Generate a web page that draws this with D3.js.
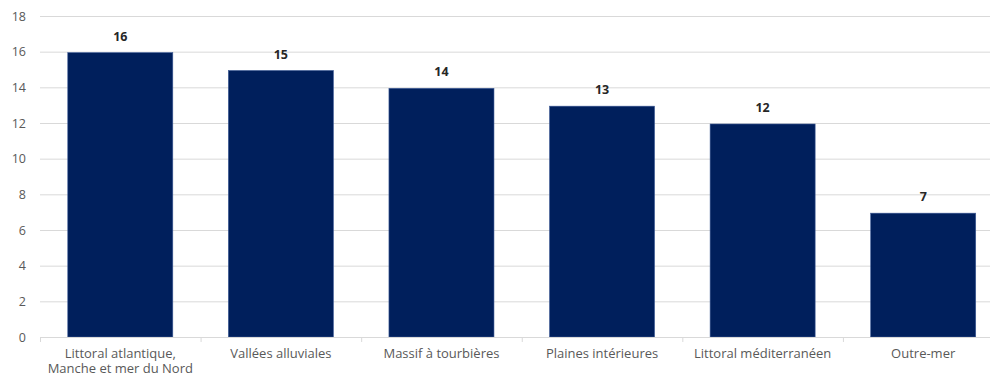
<!DOCTYPE html>
<html>
<head>
<meta charset="utf-8">
<script src="https://cdn.jsdelivr.net/npm/d3@7"></script>
<style>
  html, body { margin: 0; padding: 0; background: #fff; }
  svg { display: block; }
  text { font-family: "Open Sans", "Liberation Sans", Arial, sans-serif; }
</style>
</head>
<body>
<svg id="chart" width="990" height="376"></svg>
<script>
// Number of sites per area type
const categories = [
  ["Littoral atlantique,", "Manche et mer du Nord"],
  ["Vallées alluviales"],
  ["Massif à tourbières"],
  ["Plaines intérieures"],
  ["Littoral méditerranéen"],
  ["Outre-mer"]
];
const values = [16, 15, 14, 13, 12, 7];
const yTicks = [0, 2, 4, 6, 8, 10, 12, 14, 16, 18];

const svg = d3.select("#chart");
const plotLeft = 40, plotRight = 1003.5, plotTop = 16, plotBottom = 337;

const keys = categories.map((c, i) => i);
const x = d3.scaleBand().domain(keys).range([plotLeft, plotRight]).paddingInner(0.346).paddingOuter(0.173);
const y = d3.scaleLinear().domain([0, 18]).range([plotBottom, plotTop]);

// Horizontal gridlines
svg.append("g")
  .selectAll("line")
  .data(yTicks.filter(t => t > 0))
  .join("line")
  .attr("x1", plotLeft).attr("x2", plotRight)
  .attr("y1", d => y(d) + 0.5).attr("y2", d => y(d) + 0.5)
  .attr("stroke", "#d9d9d9").attr("stroke-width", 1);

// Y axis labels
svg.append("g")
  .selectAll("text")
  .data(yTicks)
  .join("text")
  .attr("x", 26).attr("y", d => y(d) + 4.5)
  .attr("text-anchor", "end")
  .attr("font-size", 12.5)
  .attr("fill", "#595959")
  .text(d => d);

// Bars
svg.append("g")
  .selectAll("rect")
  .data(values)
  .join("rect")
  .attr("x", (d, i) => x(i))
  .attr("width", x.bandwidth())
  .attr("y", d => y(d) + 1)
  .attr("height", d => y(0) - y(d) - 1)
  .attr("fill", "#001f5c")
  .attr("stroke", "#3d5a96")
  .attr("stroke-width", 0.6);

// Value labels
svg.append("g")
  .selectAll("text")
  .data(values)
  .join("text")
  .attr("x", (d, i) => x(i) + x.bandwidth() / 2)
  .attr("y", d => y(d) - 11)
  .attr("text-anchor", "middle")
  .attr("font-size", 12.5)
  .attr("font-weight", "bold")
  .attr("fill", "#262626")
  .text(d => d);

// Category axis
const xAxis = svg.append("g");
xAxis.append("line")
  .attr("x1", plotLeft).attr("x2", plotRight)
  .attr("y1", plotBottom + 0.5).attr("y2", plotBottom + 0.5)
  .attr("stroke", "#d9d9d9");
const step = x.step();
xAxis.selectAll("line.tick")
  .data(d3.range(categories.length + 1))
  .join("line")
  .attr("class", "tick")
  .attr("x1", i => plotLeft + i * step + 0.5).attr("x2", i => plotLeft + i * step + 0.5)
  .attr("y1", plotBottom).attr("y2", plotBottom + 5)
  .attr("stroke", "#d9d9d9");

xAxis.selectAll("text.cat")
  .data(categories)
  .join("text")
  .attr("class", "cat")
  .attr("x", (d, i) => x(i) + x.bandwidth() / 2)
  .attr("y", 357.5)
  .attr("text-anchor", "middle")
  .attr("font-size", 13)
  .attr("fill", "#595959")
  .selectAll("tspan")
  .data(d => d)
  .join("tspan")
  .attr("x", function () { return this.parentNode.getAttribute("x"); })
  .attr("dy", (d, j) => j === 0 ? 0 : 15)
  .text(d => d);
</script>
</body>
</html>
